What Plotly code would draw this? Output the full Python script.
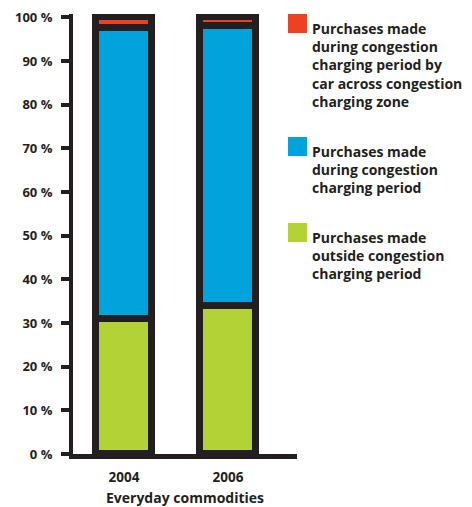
import plotly.graph_objects as go

# Share of purchases of everyday commodities, by time/route of purchase (%)
years = ["2004", "2006"]
outside_period = [31.0, 34.0]
during_period = [66.5, 64.0]
by_car_across_zone = [2.5, 2.0]

series_names = [
    "Purchases made<br>outside congestion<br>charging period",
    "Purchases made<br>during congestion<br>charging period",
    "Purchases made<br>during congestion<br>charging period by<br>car across congestion<br>charging zone",
]
series_colors = ["#b3d235", "#00a3dc", "#ee4023"]
y_tick_values = [0, 10, 20, 30, 40, 50, 60, 70, 80, 90, 100]
y_tick_labels = ["0 %", "10 %", "20 %", "30 %", "40 %", "50 %",
                 "60 %", "70 %", "80 %", "90 %", "100 %"]
x_title = "Everyday commodities"

DARK = "#231f20"
FONT = "'Open Sans', Lato, sans-serif"

W, H = 472, 507
ML, MR, MT, MB = 73, 175, 14, 53
PW, PH = W - ML - MR, H - MT - MB


def paper_x(px):
    return (px - ML) / PW


def paper_y(py):
    return (H - MB - py) / PH


fig = go.Figure()
for vals, name, color in zip(
    [outside_period, during_period, by_car_across_zone], series_names, series_colors
):
    fig.add_trace(
        go.Bar(
            x=years,
            y=vals,
            name=name,
            width=0.53,
            marker=dict(color=color, line=dict(color=DARK, width=7)),
            showlegend=False,
        )
    )

# Legend drawn as colour swatches with wrapped labels, top item first
legend_tops = [14, 137, 223]
for top, name, color in zip(legend_tops, reversed(series_names), reversed(series_colors)):
    fig.add_shape(
        type="rect",
        xref="paper",
        yref="paper",
        x0=paper_x(288),
        x1=paper_x(307),
        y0=paper_y(top),
        y1=paper_y(top + 19),
        fillcolor=color,
        line=dict(width=0),
    )
    fig.add_annotation(
        xref="paper",
        yref="paper",
        x=paper_x(310),
        y=paper_y(top + 3),
        xanchor="left",
        yanchor="top",
        align="left",
        text="<b>" + name + "</b>",
        showarrow=False,
        font=dict(family=FONT, size=14, color=DARK),
    )

fig.update_layout(
    width=W,
    height=H,
    margin=dict(l=ML, r=MR, t=MT, b=MB),
    barmode="stack",
    bargap=0,
    plot_bgcolor="white",
    paper_bgcolor="white",
    font=dict(family=FONT, color=DARK),
)

fig.update_xaxes(
    type="category",
    range=[-0.49, 1.663],
    automargin=False,
    showline=True,
    linecolor=DARK,
    linewidth=4.5,
    showgrid=False,
    ticks="",
    ticklabelstandoff=7,
    tickfont=dict(family=FONT, size=13.5, color=DARK, weight="bold"),
    title=dict(
        text="<b>" + x_title + "</b>",
        font=dict(family=FONT, size=14, color=DARK),
        standoff=13,
    ),
)

fig.update_yaxes(
    range=[0, 100.8],
    tickvals=y_tick_values,
    ticktext=y_tick_labels,
    automargin=False,
    showline=True,
    linecolor=DARK,
    linewidth=4,
    showgrid=False,
    zeroline=False,
    ticks="outside",
    ticklen=8,
    tickwidth=3.5,
    tickcolor=DARK,
    ticklabelstandoff=6,
    tickfont=dict(family=FONT, size=13, color=DARK, weight="bold"),
)

fig.write_html("out.html")
